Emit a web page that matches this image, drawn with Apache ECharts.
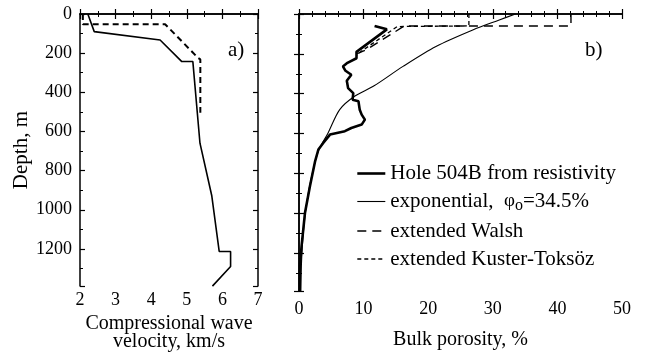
<!DOCTYPE html>
<html>
<head>
<meta charset="utf-8">
<script src="https://cdn.jsdelivr.net/npm/echarts@6/dist/echarts.min.js"></script>
<style>
  html, body { margin: 0; padding: 0; background: #fff; }
  #chart { width: 647px; height: 357px; }
</style>
</head>
<body>
<div id="chart"></div>
<script>
// panel a: velocity (km/s) vs depth (m)
const velSolid = [[2.22, 0], [2.4, 90], [4.25, 133], [4.86, 243], [5.17, 243], [5.37, 660],
  [5.7, 927], [5.91, 1213], [6.23, 1213], [6.23, 1290], [5.72, 1390]];
const velDashed = [[2.08, 0], [2.08, 52], [4.39, 52], [5.32, 225], [5.38, 232], [5.38, 505]];

// panel b: porosity (%) vs depth (m)
const holeData = [[11.7, 60], [13.6, 77], [8.9, 190], [8.9, 222], [7.5, 245], [6.8, 263], [7.2, 285],
  [8.1, 305], [7.4, 335], [7.6, 372], [8.4, 397], [8.3, 430], [9.2, 438], [9.4, 480], [9.7, 505],
  [10.2, 530], [9.7, 555], [8.1, 572], [7.1, 588], [4.8, 605], [3.75, 647], [3.0, 680], [2.5, 738],
  [1.7, 863], [0.93, 997], [0.4, 1163], [0.15, 1263], [0.15, 1390]];
const expData = [[33.5, 0], [31.0, 30], [26.9, 80], [21.2, 163], [16.1, 263], [11.5, 363], [8.6, 413],
  [6.3, 480], [4.5, 597], [3.0, 688], [1.96, 813], [1.19, 947], [0.67, 1097], [0.41, 1230], [0.26, 1390]];
const walshData = [[42.1, 0], [42.1, 60], [16.3, 60], [10.4, 180], [8.9, 200]];
const ktData = [[26.3, 0], [26.3, 60], [15.2, 63], [9.6, 188], [8.9, 210]];

const HOLE = 'Hole 504B from resistivity';
const EXPO = 'exponential';
const WALSH = 'extended Walsh';
const KT = 'extended Kuster-Toksöz';

const FONT = 'Liberation Serif';
const depthMax = 1390;

// line styles, shared by series and legend icons
const holeStyle = { color: '#000', width: 2.6 };
const expoStyle = { color: '#000', width: 1.1 };
const walshStyle = { color: '#000', width: 1.4, type: [9, 6] };
const ktStyle = { color: '#000', width: 1.3, type: [4, 3] };

let myChart = echarts.init(document.getElementById('chart'));

const tickBase = {
  axisLine: { show: true, lineStyle: { color: '#000', width: 1.5 } },
  axisTick: { show: true, inside: true, length: 5, lineStyle: { color: '#000', width: 1.2 } },
  minorTick: { show: true, length: 3, lineStyle: { color: '#000', width: 1 } },
  splitLine: { show: false },
};

function edgeAxis(extra) {
  return Object.assign({
    type: 'value',
    axisLabel: { show: false },
  }, tickBase, extra);
}

let option = {
  animation: false,
  backgroundColor: '#fff',
  grid: [
    { left: 80, top: 14, width: 178, height: 277 },
    { left: 299, top: 14, width: 323, height: 277 },
  ],
  legend: {
    data: [
      { name: HOLE, lineStyle: holeStyle },
      { name: EXPO, lineStyle: expoStyle },
      { name: WALSH, lineStyle: walshStyle },
      { name: KT, lineStyle: ktStyle },
    ],
    orient: 'vertical',
    left: 351,
    top: 158,
    itemWidth: 28,
    itemHeight: 14,
    itemGap: 7,
    itemStyle: { opacity: 0 },
    textStyle: {
      fontFamily: FONT,
      fontSize: 21,
      color: '#000',
      rich: {
        phi: { fontFamily: FONT, fontSize: 19, color: '#000' },
        sub: { fontFamily: FONT, fontSize: 16, color: '#000', padding: [8, 0, 0, 0] },
      },
    },
    formatter(name) {
      if (name === EXPO) {
        return 'exponential,  {phi|φ}{sub|o}=34.5%';
      }
      return name;
    },
  },
  xAxis: [
    Object.assign({
      gridIndex: 0,
      type: 'value',
      position: 'bottom',
      min: 2,
      max: 7,
      interval: 1,
      name: 'Compressional wave\nvelocity, km/s',
      nameLocation: 'middle',
      nameGap: 23,
      nameTextStyle: { fontFamily: FONT, fontSize: 20, color: '#000', lineHeight: 18 },
      axisLabel: { fontFamily: FONT, fontSize: 18, color: '#000', margin: 5 },
    }, tickBase, { minorTick: { show: true, splitNumber: 2, length: 3, lineStyle: { color: '#000' } } }),
    edgeAxis({ gridIndex: 0, position: 'top', min: 2, max: 7, interval: 1,
      minorTick: { show: true, splitNumber: 2, length: 3, lineStyle: { color: '#000' } } }),
    Object.assign({
      gridIndex: 1,
      type: 'value',
      position: 'bottom',
      min: 0,
      max: 50,
      interval: 10,
      name: 'Bulk porosity, %',
      nameLocation: 'middle',
      nameGap: 39,
      nameTextStyle: { fontFamily: FONT, fontSize: 20, color: '#000' },
      axisLabel: { fontFamily: FONT, fontSize: 18, color: '#000', margin: 9 },
    }, tickBase, { minorTick: { show: true, splitNumber: 5, length: 3, lineStyle: { color: '#000' } } }),
    edgeAxis({ gridIndex: 1, position: 'top', min: 0, max: 50, interval: 10,
      minorTick: { show: true, splitNumber: 5, length: 3, lineStyle: { color: '#000' } } }),
  ],
  yAxis: [
    Object.assign({
      gridIndex: 0,
      type: 'value',
      position: 'left',
      inverse: true,
      min: 0,
      max: depthMax,
      interval: 200,
      name: 'Depth, m',
      nameLocation: 'middle',
      nameRotate: 90,
      nameGap: 48,
      nameTextStyle: { fontFamily: FONT, fontSize: 21, color: '#000' },
      axisLabel: {
        fontFamily: FONT, fontSize: 18, color: '#000', margin: 8,
        formatter: v => (v % 200 === 0 ? String(v) : ''),
      },
    }, tickBase, { minorTick: { show: true, splitNumber: 2, length: 3, lineStyle: { color: '#000' } } }),
    edgeAxis({ gridIndex: 0, position: 'right', inverse: true, min: 0, max: depthMax, interval: 200,
      minorTick: { show: true, splitNumber: 2, length: 3, lineStyle: { color: '#000' } } }),
    edgeAxis({ gridIndex: 1, position: 'left', inverse: true, min: 0, max: depthMax, interval: 200,
      minorTick: { show: true, splitNumber: 2, length: 3, lineStyle: { color: '#000' } } }),
    edgeAxis({ gridIndex: 1, position: 'right', inverse: true, min: 0, max: depthMax, interval: 200,
      minorTick: { show: true, splitNumber: 2, length: 3, lineStyle: { color: '#000' } } }),
  ],
  graphic: [
    { type: 'text', left: 228, top: 40, style: { text: 'a)', font: '21px "Liberation Serif"', fill: '#000' } },
    { type: 'text', left: 585, top: 40, style: { text: 'b)', font: '21px "Liberation Serif"', fill: '#000' } },
  ],
  series: [
    {
      name: 'vp-solid',
      type: 'line',
      xAxisIndex: 0,
      yAxisIndex: 0,
      symbol: 'none',
      data: velSolid,
      lineStyle: { color: '#000', width: 1.6 },
    },
    {
      name: 'vp-dashed',
      type: 'line',
      xAxisIndex: 0,
      yAxisIndex: 0,
      symbol: 'none',
      data: velDashed,
      lineStyle: { color: '#000', width: 2, type: [6, 4] },
    },
    {
      name: WALSH,
      type: 'line',
      xAxisIndex: 2,
      yAxisIndex: 2,
      symbol: 'none',
      data: walshData,
      lineStyle: walshStyle,
    },
    {
      name: KT,
      type: 'line',
      xAxisIndex: 2,
      yAxisIndex: 2,
      symbol: 'none',
      data: ktData,
      lineStyle: ktStyle,
    },
    {
      name: EXPO,
      type: 'line',
      xAxisIndex: 2,
      yAxisIndex: 2,
      symbol: 'none',
      smooth: 0.3,
      data: expData,
      lineStyle: expoStyle,
    },
    {
      name: HOLE,
      type: 'line',
      xAxisIndex: 2,
      yAxisIndex: 2,
      symbol: 'none',
      data: holeData,
      lineStyle: holeStyle,
    },
  ],
};
myChart.setOption(option);
</script>
</body>
</html>
